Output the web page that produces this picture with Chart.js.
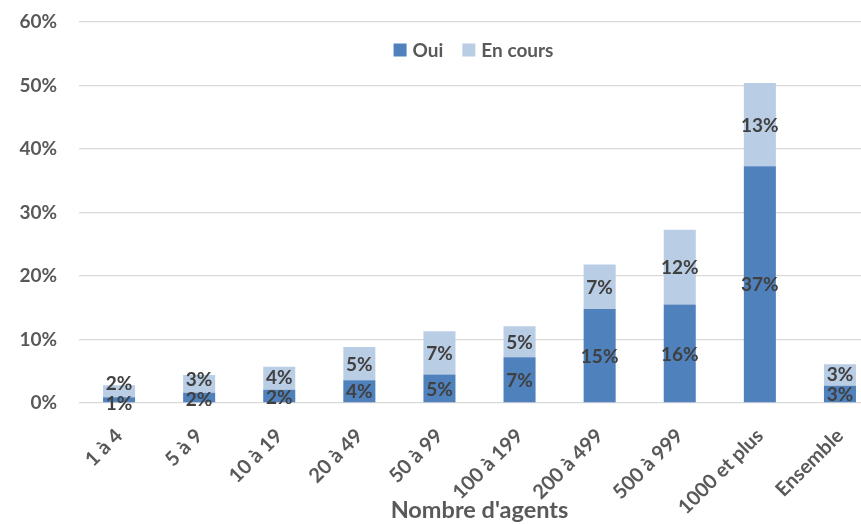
<!DOCTYPE html>
<html>
<head>
<meta charset="utf-8">
<script src="https://cdn.jsdelivr.net/npm/chart.js@4"></script>
<style>
    html, body { margin: 0; padding: 0; background: #fff; overflow: hidden; }
    #wrap { width: 881px; height: 524px; }
</style>
</head>
<body>
<div id="wrap"><canvas id="myChart"></canvas></div>
<script>
const categories = ["1 à 4", "5 à 9", "10 à 19", "20 à 49", "50 à 99",
    "100 à 199", "200 à 499", "500 à 999", "1000 et plus", "Ensemble"];
const oui = [0.9, 1.6, 2.1, 3.6, 4.5, 7.2, 14.8, 15.5, 37.3, 2.7];
const enCours = [1.9, 2.8, 3.6, 5.2, 6.8, 4.9, 7.0, 11.8, 13.1, 3.4];
const yTicks = [0, 10, 20, 30, 40, 50, 60];

const fontName = "Lato, 'Liberation Sans', sans-serif";
const textGrey = "#595959";

// labels in the middle of each segment, pushed apart when they collide
const barLabels = {
    id: "barLabels",
    afterDatasetsDraw(chart) {
        const ctx = chart.ctx;
        const m0 = chart.getDatasetMeta(0);
        const m1 = chart.getDatasetMeta(1);
        ctx.save();
        ctx.font = "bold 19px " + fontName;
        ctx.fillStyle = "#404040";
        ctx.textAlign = "center";
        ctx.textBaseline = "middle";
        for (let i = 0; i < m0.data.length; i++) {
            const low = m0.data[i];
            const high = m1.data[i];
            let y0 = (low.y + low.base) / 2;
            let y1 = (high.y + high.base) / 2;
            const gap = y0 - y1;
            if (gap < 20) {
                const s = 20 - gap;
                y1 -= s * 0.75;
                y0 += s * 0.25;
            }
            ctx.fillText(Math.round(oui[i]) + "%", low.x, y0 + 1);
            ctx.fillText(Math.round(enCours[i]) + "%", high.x, y1 + 1);
        }
        ctx.restore();
    }
};

// horizontal legend drawn inside the top of the plot area
const innerLegend = {
    id: "innerLegend",
    afterDraw(chart) {
        const ctx = chart.ctx;
        const area = chart.chartArea;
        const box = 13, gapText = 6, gapItem = 19;
        ctx.save();
        ctx.font = "bold 19px " + fontName;
        ctx.textBaseline = "middle";
        const items = chart.data.datasets.map(ds => ({
            text: ds.label, color: ds.backgroundColor, w: ctx.measureText(ds.label).width
        }));
        let total = 0;
        items.forEach((it, i) => {
            total += box + gapText + it.w + (i < items.length - 1 ? gapItem : 0);
        });
        let x = (area.left + area.right) / 2 - total / 2 - 6;
        const yMid = area.top + 28;
        items.forEach(it => {
            ctx.fillStyle = it.color;
            ctx.fillRect(x, yMid - box / 2, box, box);
            ctx.fillStyle = textGrey;
            ctx.fillText(it.text, x + box + gapText, yMid + 1);
            x += box + gapText + it.w + gapItem;
        });
        ctx.restore();
    }
};

new Chart("myChart", {
    type: "bar",
    data: {
        labels: categories,
        datasets: [{
            label: "Oui",
            data: oui,
            backgroundColor: "#4F81BD",
            barPercentage: 0.4,
            categoryPercentage: 1
        }, {
            label: "En cours",
            data: enCours,
            backgroundColor: "#B9CDE5",
            barPercentage: 0.4,
            categoryPercentage: 1
        }]
    },
    options: {
        responsive: true,
        maintainAspectRatio: false,
        animation: false,
        layout: {padding: {top: 22, right: 1, left: 0, bottom: 0}},
        plugins: {
            tooltip: {enabled: false},
            legend: {display: false}
        },
        scales: {
            x: {
                stacked: true,
                grid: {display: false},
                border: {display: false},
                ticks: {
                    minRotation: 45,
                    maxRotation: 45,
                    padding: 13,
                    labelOffset: 0,
                    color: textGrey,
                    font: {family: fontName, size: 20, weight: "bold"}
                },
                title: {
                    display: true,
                    text: "Nombre d'agents",
                    color: textGrey,
                    padding: {top: 0, bottom: -1},
                    font: {family: fontName, size: 23.5, weight: "bold"}
                },
                afterFit(scale) {
                    scale.height = 121;
                    scale.paddingRight = 0;
                    scale.paddingTop = 0;
                }
            },
            y: {
                stacked: true,
                min: 0,
                max: 60,
                afterBuildTicks(scale) {
                    scale.ticks = yTicks.map(v => ({value: v}));
                },
                grid: {color: "#D9D9D9", lineWidth: 1.3, drawTicks: false},
                border: {display: false},
                ticks: {
                    padding: 22,
                    color: textGrey,
                    font: {family: fontName, size: 19, weight: "bold"},
                    callback: v => v + "%"
                },
                afterFit(scale) {
                    scale.width = 79;
                    scale.paddingTop = 0;
                    scale.paddingBottom = 0;
                }
            }
        }
    },
    plugins: [barLabels, innerLegend]
});
</script>
</body>
</html>
